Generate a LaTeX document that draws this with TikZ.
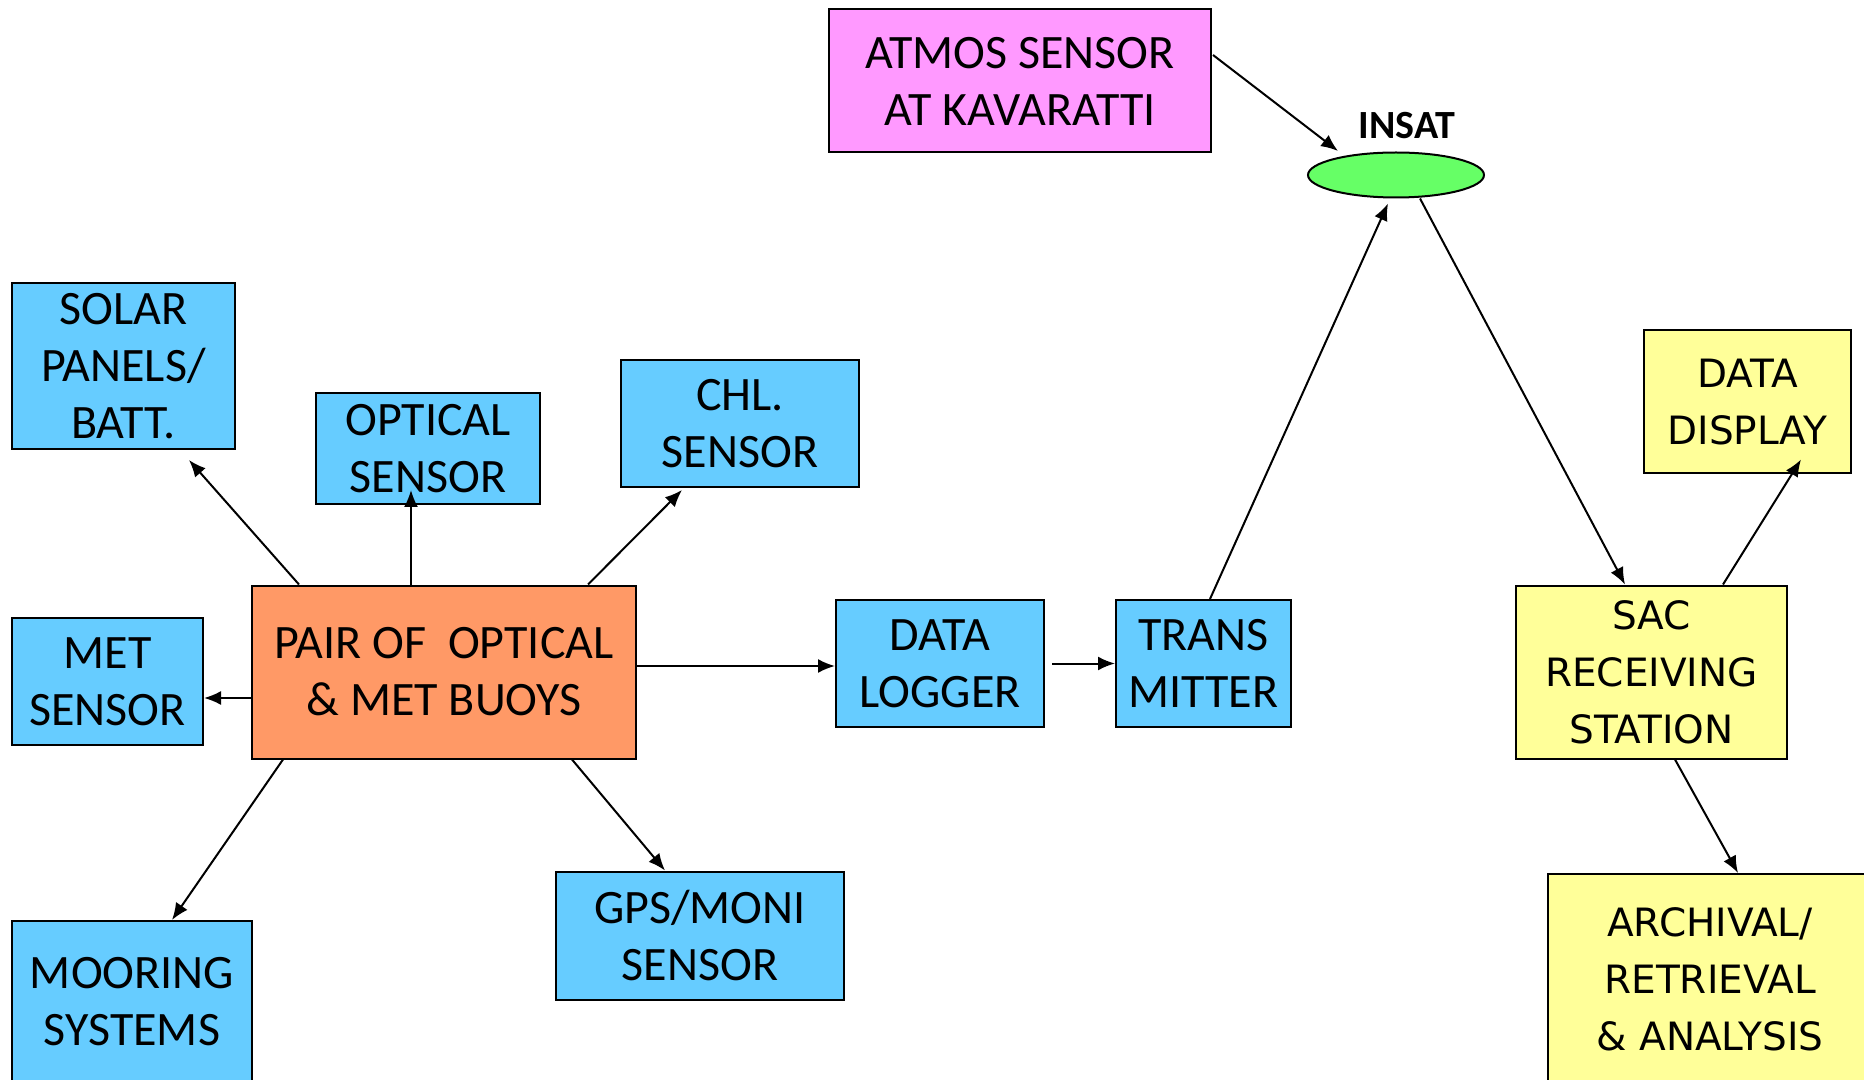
\documentclass[tikz,border=0pt]{standalone}
\usepackage{fontspec}
\setmainfont{Carlito}
\newfontfamily\dejavu{DejaVu Sans}
\usetikzlibrary{arrows.meta,calc,shapes.geometric}
\definecolor{buoyblue}{HTML}{66CCFF}
\definecolor{buoyorange}{HTML}{FF9966}
\definecolor{atmospink}{HTML}{FF99FF}
\definecolor{insatgreen}{HTML}{66FF66}
\definecolor{sacyellow}{HTML}{FFFF99}

\begin{document}
\begin{tikzpicture}[x=0.5pt,y=-0.5pt,
  box/.style={draw,line width=1pt,align=center,inner sep=0pt,
    font=\fontsize{24}{28.5}\selectfont},
  sensor/.style={box,fill=buoyblue},
  station/.style={box,fill=sacyellow,font=\dejavu\fontsize{19.5}{28.5}\selectfont},
  link/.style={line width=1pt,-{Latex[length=8.5pt,width=7pt]}}]
  \useasboundingbox (0,0) rectangle (1864,1080);
  \clip (0,0) rectangle (1864,1080);

  % buoy and its sensors
  \node[box,fill=buoyorange,minimum width=192pt,minimum height=86.5pt] (pair) at (444,672) {PAIR OF~ OPTICAL\\\& MET BUOYS};
  \node[sensor,minimum width=111.5pt,minimum height=83pt] (solar) at (123.5,366) {SOLAR\\PANELS/\\BATT.};
  \node[sensor,minimum width=112pt,minimum height=55.5pt] (optical) at (428,448.5) {OPTICAL\\SENSOR};
  \node[sensor,minimum width=119pt,minimum height=63.5pt] (chl) at (740,423.5) {CHL.\\SENSOR};
  \node[sensor,minimum width=95.5pt,minimum height=63.5pt] (met) at (107.5,681.5) {MET\\SENSOR};
  \node[sensor,minimum width=120pt,minimum height=81pt] (mooring) at (132,1002) {MOORING\\SYSTEMS};
  \node[sensor,minimum width=144pt,minimum height=64pt] (gps) at (700,935.5) {GPS/MONI\\SENSOR};

  % data chain
  \node[sensor,minimum width=104pt,minimum height=63.5pt] (logger) at (940,663.5) {DATA\\LOGGER};
  \node[sensor,minimum width=87.5pt,minimum height=63.5pt] (trans) at (1203.5,663.5) {TRANS\\MITTER};
  \node[box,fill=atmospink,minimum width=191pt,minimum height=71.5pt] (atmos) at (1020,81) {ATMOS SENSOR\\AT KAVARATTI};
  \node[ellipse,draw,line width=1pt,fill=insatgreen,minimum width=88pt,minimum height=22.5pt,inner sep=0pt] (insat) at (1396,175) {};
  \node[font=\bfseries\fontsize{20}{24}\selectfont] (insatlabel) at (1407,126) {INSAT};

  % ground segment
  \node[station,minimum width=135.5pt,minimum height=86.5pt] (sac) at (1651.5,672) {SAC\\RECEIVING\\STATION};
  \node[station,minimum width=103.5pt,minimum height=71.5pt] (display) at (1747.5,402) {DATA\\DISPLAY};
  \node[station,minimum width=162pt,minimum height=105pt] (archival) at (1710,979) {ARCHIVAL/\\RETRIEVAL\\\& ANALYSIS};

  \draw[link] ($(pair.north west)+(48,0)$) -- ($(solar.south west)+(178,10)$);
  \draw[link] ($(pair.north west)+(160,0)$) -- ($(optical.south west)+(96,-15)$);
  \draw[link] ($(pair.north west)+(337,0)$) -- ($(chl.south west)+(62,2)$);
  \draw[link] ($(pair.west)+(0,26)$) -- ($(met.east)+(0,16.5)$);
  \draw[link] ($(pair.east)+(0,-6)$) -- ($(logger.west)+(0,2.5)$);
  \draw[link] ($(pair.south west)+(32,0)$) -- ($(mooring.north west)+(161,0)$);
  \draw[link] ($(pair.south west)+(321,0)$) -- ($(gps.north west)+(110,0)$);
  \draw[link] ($(logger.east)+(7,0)$) -- (trans.west);
  \draw[link] ($(trans.north west)+(95,0)$) -- ($(insat.south)+(-8,5)$);
  \draw[link] ($(atmos.north east)+(1,46.5)$) -- ($(insat.center)+(-58,-24)$);
  \draw[link] ($(insat.south)+(24,0)$) -- ($(sac.north west)+(110,0)$);
  \draw[link] ($(sac.north west)+(208,0)$) -- ($(display.south west)+(158,-15)$);
  \draw[link] ($(sac.south west)+(160,0)$) -- ($(archival.north west)+(191,0)$);
\end{tikzpicture}
\end{document}
